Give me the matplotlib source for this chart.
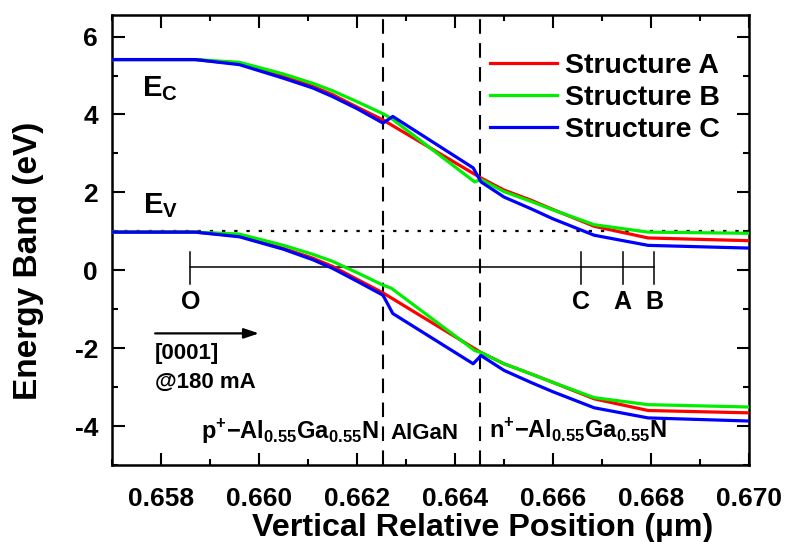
"""
Energy band diagram of the p-AlGaN / AlGaN / n-AlGaN stack for three structures.
"""

import matplotlib

matplotlib.use("Agg")
import matplotlib.pyplot as plt
from matplotlib.ticker import MultipleLocator

plt.rcParams["font.family"] = ["Liberation Sans", "DejaVu Sans"]
plt.rcParams["font.weight"] = "bold"
plt.rcParams["axes.unicode_minus"] = False
plt.rcParams["mathtext.fontset"] = "custom"
plt.rcParams["mathtext.rm"] = "Liberation Sans:bold"
plt.rcParams["mathtext.bf"] = "Liberation Sans:bold"

# position (um) and energies (eV)
x_a = [0.6570, 0.6587, 0.6596, 0.6605, 0.6611, 0.6615, 0.6620, 0.66253,
       0.66453, 0.6650, 0.66555, 0.6660, 0.66684, 0.66794, 0.6700]
ec_a = [5.41, 5.41, 5.30, 4.98, 4.72, 4.51, 4.19, 3.86,
        2.37, 2.06, 1.80, 1.56, 1.13, 0.83, 0.76]
ev_a = [0.98, 0.98, 0.88, 0.56, 0.31, 0.10, -0.23, -0.58,
        -2.11, -2.40, -2.66, -2.88, -3.30, -3.60, -3.66]

x_b = [0.6570, 0.6587, 0.6596, 0.6605, 0.6611, 0.6615, 0.6620, 0.66253,
       0.66270, 0.66440, 0.66453, 0.6650, 0.66555, 0.6660, 0.66684, 0.66794, 0.6700]
ec_b = [5.41, 5.41, 5.34, 5.04, 4.80, 4.61, 4.33, 4.02,
        3.90, 2.27, 2.33, 2.02, 1.77, 1.55, 1.17, 0.98, 0.95]
ev_b = [0.98, 0.98, 0.93, 0.64, 0.41, 0.23, -0.06, -0.38,
        -0.46, -2.06, -2.11, -2.40, -2.66, -2.88, -3.27, -3.45, -3.51]

x_c = [0.6570, 0.6587, 0.6596, 0.6605, 0.6611, 0.6615, 0.6620, 0.66253,
       0.66273, 0.66437, 0.66453, 0.6650, 0.66555, 0.6660, 0.66684, 0.66794, 0.6700]
ec_c = [5.41, 5.41, 5.28, 4.93, 4.68, 4.46, 4.15, 3.78,
        3.95, 2.63, 2.27, 1.88, 1.58, 1.32, 0.90, 0.64, 0.57]
ev_c = [0.98, 0.98, 0.86, 0.54, 0.27, 0.05, -0.28, -0.64,
        -1.11, -2.40, -2.19, -2.57, -2.88, -3.12, -3.53, -3.79, -3.87]

interfaces = [0.66253, 0.66451]
fermi_level = 1.0

# depth scale bar with the points O, C, A, B
mark_names = ["O", "C", "A", "B"]
mark_x = [0.6586, 0.66657, 0.66742, 0.66806]
scale_y = 0.08

fig = plt.figure(figsize=(7.86, 5.42), dpi=100)
ax = fig.add_axes([0.1425, 0.142, 0.8105, 0.830])

ax.plot(x_a, ec_a, color="#ff0000", lw=2.3, label="Structure A", zorder=3)
ax.plot(x_b, ec_b, color="#00ee00", lw=2.3, label="Structure B", zorder=3)
ax.plot(x_c, ec_c, color="#0000ff", lw=2.3, label="Structure C", zorder=4)
ax.plot(x_a, ev_a, color="#ff0000", lw=2.3, zorder=3)
ax.plot(x_b, ev_b, color="#00ee00", lw=2.3, zorder=3)
ax.plot(x_c, ev_c, color="#0000ff", lw=2.3, zorder=4)

for xi in interfaces:
    ax.axvline(xi, color="black", lw=1.5, ls=(0, (7, 4.5)), zorder=2)
ax.axhline(fermi_level, color="black", lw=1.6, ls=(0, (1.5, 4)), zorder=2)

ax.plot([mark_x[0], mark_x[-1]], [scale_y, scale_y], color="black", lw=1.1)
for name, xm in zip(mark_names, mark_x):
    ax.plot([xm, xm], [scale_y + 0.38, scale_y - 0.42], color="black", lw=1.1)
    ax.text(xm, -0.82, name, ha="center", va="center", fontsize=18,
            fontweight="bold")

ax.annotate("", xy=(0.66000, -1.62), xytext=(0.65788, -1.62),
            arrowprops=dict(arrowstyle="-|>,head_length=0.9,head_width=0.3",
                            color="black", lw=1.6, shrinkA=0, shrinkB=0))
ax.text(0.65788, -2.14, "[0001]", ha="left", va="center", fontsize=16)
ax.text(0.65788, -2.89, "@180 mA", ha="left", va="center", fontsize=16)

ax.text(0.65761, 4.46, r"$\mathbf{E}_{\mathbf{C}}$", fontsize=21, ha="left",
        va="baseline")
ax.text(0.65763, 1.47, r"$\mathbf{E}_{\mathbf{V}}$", fontsize=21, ha="left",
        va="baseline")

region_y = -4.33
ax.text(0.66245, region_y,
        r"$\mathbf{p}^{\mathbf{+}}\mathbf{-Al}_{\mathbf{0.55}}\mathbf{Ga}_{\mathbf{0.55}}\mathbf{N}$",
        fontsize=17, ha="right", va="baseline")
ax.text(0.66337, region_y, "AlGaN", fontsize=16, ha="center", va="baseline")
ax.text(0.66470, region_y,
        r"$\mathbf{n}^{\mathbf{+}}\mathbf{-Al}_{\mathbf{0.55}}\mathbf{Ga}_{\mathbf{0.55}}\mathbf{N}$",
        fontsize=17, ha="left", va="baseline")

ax.set_xlim(0.657, 0.670)
ax.set_ylim(-5.0, 6.55)
ax.xaxis.set_minor_locator(MultipleLocator(0.001))
ax.yaxis.set_major_locator(MultipleLocator(2))
ax.yaxis.set_minor_locator(MultipleLocator(1))
ax.set_xticks([0.658, 0.660, 0.662, 0.664, 0.666, 0.668, 0.670])
ax.set_xticklabels(["0.658", "0.660", "0.662", "0.664", "0.666", "0.668", "0.670"])
ax.tick_params(which="both", direction="in", top=True, right=True, width=1.5,
               labelsize=19)
ax.tick_params(which="major", length=9)
ax.tick_params(axis="x", which="major", pad=16)
ax.tick_params(axis="y", which="major", pad=10)
ax.tick_params(which="minor", length=4.5)
for spine in ax.spines.values():
    spine.set_linewidth(1.8)

ax.set_xlabel("Vertical Relative Position (\u00b5m)", fontsize=23.2,
              fontweight="bold")
ax.set_ylabel("Energy Band (eV)", fontsize=24, fontweight="bold")
ax.xaxis.set_label_coords(0.581, -0.106)
ax.yaxis.set_label_coords(-0.107, 0.453)

ax.legend(loc="upper left", bbox_to_anchor=(0.593, 0.917), frameon=False,
          fontsize=20.5, handlelength=2.35, handletextpad=0.3, labelspacing=0.22,
          borderpad=0, borderaxespad=0)

fig.savefig("out.png", dpi=100)
plt.close(fig)
